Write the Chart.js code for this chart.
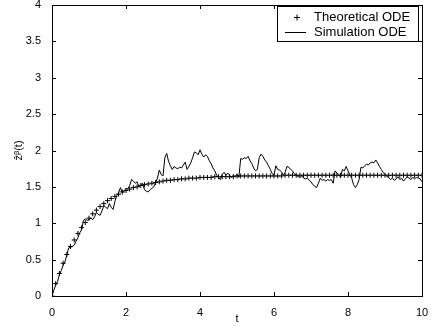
<!DOCTYPE html>
<html>
<head>
<meta charset="utf-8">
<script src="https://cdn.jsdelivr.net/npm/chart.js@4.4.0/dist/chart.umd.min.js"></script>
<style>
  html, body { margin: 0; padding: 0; background: #fff; }
  #wrap { width: 433px; height: 326px; }
</style>
</head>
<body>
<div id="wrap"><canvas id="odeChart" width="433" height="326"></canvas></div>
<script>
// 이론값: t = 0, 0.1, ..., 10
const theoryT = [];
for (let i = 0; i <= 100; i++) theoryT.push(i / 10);
const theoryY = [
    0.00, 0.17, 0.31, 0.45, 0.57, 0.68, 0.77, 0.86, 0.94, 1.01,
    1.07, 1.13, 1.18, 1.23, 1.27, 1.31, 1.34, 1.37, 1.40, 1.43,
    1.45, 1.47, 1.49, 1.50, 1.52, 1.53, 1.54, 1.55, 1.56, 1.57,
    1.58, 1.59, 1.59, 1.60, 1.60, 1.61, 1.61, 1.62, 1.62, 1.62,
    1.63, 1.63, 1.63, 1.63, 1.64, 1.64, 1.64, 1.64, 1.64, 1.64,
    1.65, 1.65, 1.65, 1.65, 1.65, 1.65, 1.65, 1.65, 1.65, 1.65,
    1.65, 1.65, 1.65, 1.66, 1.66, 1.66, 1.66, 1.66, 1.66, 1.66,
    1.66, 1.66, 1.66, 1.66, 1.66, 1.66, 1.66, 1.66, 1.66, 1.66,
    1.66, 1.66, 1.66, 1.66, 1.66, 1.66, 1.66, 1.66, 1.66, 1.66,
    1.66, 1.66, 1.66, 1.66, 1.66, 1.66, 1.66, 1.66, 1.66, 1.66,
    1.66
];

// 시뮬레이션: t = 0, 0.05, ..., 10
const simT = [];
for (let i = 0; i <= 200; i++) simT.push(i / 20);
const simY = [
    0.00, 0.08, 0.15, 0.20, 0.29, 0.35, 0.42, 0.47, 0.56, 0.66,
    0.67, 0.68, 0.70, 0.75, 0.80, 0.87, 0.91, 1.04, 1.06, 1.04,
    1.05, 1.07, 1.05, 1.09, 1.15, 1.12, 1.11, 1.17, 1.24, 1.22,
    1.20, 1.27, 1.22, 1.19, 1.30, 1.38, 1.42, 1.49, 1.42, 1.44,
    1.48, 1.47, 1.52, 1.60, 1.58, 1.55, 1.57, 1.50, 1.53, 1.55,
    1.46, 1.44, 1.43, 1.46, 1.48, 1.50, 1.56, 1.62, 1.73, 1.67,
    1.65, 1.90, 1.96, 1.85, 1.79, 1.74, 1.78, 1.76, 1.75, 1.77,
    1.76, 1.80, 1.84, 1.74, 1.78, 1.83, 1.90, 1.98, 1.97, 1.94,
    2.01, 1.95, 1.91, 1.94, 1.92, 1.86, 1.82, 1.76, 1.72, 1.66,
    1.63, 1.60, 1.67, 1.70, 1.66, 1.69, 1.66, 1.63, 1.66, 1.64,
    1.67, 1.63, 1.89, 1.88, 1.90, 1.89, 1.92, 1.86, 1.82, 1.76,
    1.72, 1.74, 1.90, 1.95, 1.92, 1.87, 1.84, 1.79, 1.74, 1.68,
    1.66, 1.79, 1.74, 1.73, 1.71, 1.66, 1.70, 1.78, 1.77, 1.74,
    1.72, 1.68, 1.66, 1.64, 1.63, 1.65, 1.62, 1.61, 1.62, 1.59,
    1.57, 1.53, 1.51, 1.49, 1.55, 1.62, 1.59, 1.60, 1.58, 1.60,
    1.59, 1.60, 1.55, 1.72, 1.69, 1.67, 1.63, 1.74, 1.72, 1.78,
    1.72, 1.67, 1.62, 1.53, 1.49, 1.53, 1.60, 1.77, 1.76, 1.79,
    1.81, 1.80, 1.83, 1.84, 1.83, 1.87, 1.83, 1.78, 1.74, 1.70,
    1.67, 1.64, 1.63, 1.60, 1.62, 1.59, 1.61, 1.64, 1.60, 1.62,
    1.58, 1.61, 1.64, 1.62, 1.60, 1.63, 1.61, 1.63, 1.62, 1.61,
    1.57
];

const xTicks = [0, 2, 4, 6, 8, 10];
const yTicks = [0, 0.5, 1, 1.5, 2, 2.5, 3, 3.5, 4];
const seriesNames = ['Theoretical ODE', 'Simulation ODE'];

const FONT = '"Liberation Sans", Arial, sans-serif';

// MATLAB 스타일 테두리와 안쪽 눈금
const framePlugin = {
    id: 'frame',
    afterDraw(chart) {
        const { ctx, chartArea: a, scales } = chart;
        const len = 4;
        ctx.save();
        ctx.strokeStyle = '#000';
        ctx.lineWidth = 1;
        ctx.strokeRect(Math.round(a.left) + 0.5, Math.round(a.top) + 0.5,
            Math.round(a.right - a.left), Math.round(a.bottom - a.top));
        ctx.beginPath();
        xTicks.forEach(v => {
            const x = Math.round(scales.x.getPixelForValue(v)) + 0.5;
            ctx.moveTo(x, a.bottom); ctx.lineTo(x, a.bottom - len);
            ctx.moveTo(x, a.top); ctx.lineTo(x, a.top + len);
        });
        yTicks.forEach(v => {
            const y = Math.round(scales.y.getPixelForValue(v)) + 0.5;
            ctx.moveTo(a.left, y); ctx.lineTo(a.left + len, y);
            ctx.moveTo(a.right, y); ctx.lineTo(a.right - len, y);
        });
        ctx.stroke();

        // 범례
        const bx = 277.5, by = 6.5, bw = 141, bh = 35;
        ctx.fillStyle = '#fff';
        ctx.fillRect(bx, by, bw, bh);
        ctx.strokeRect(bx, by, bw, bh);
        ctx.beginPath();
        ctx.moveTo(294, 17.5); ctx.lineTo(300, 17.5);
        ctx.moveTo(297, 14.5); ctx.lineTo(297, 20.5);
        ctx.moveTo(285, 32.5); ctx.lineTo(306, 32.5);
        ctx.stroke();
        ctx.fillStyle = '#000';
        ctx.font = '13px ' + FONT;
        ctx.textBaseline = 'middle';
        ctx.textAlign = 'left';
        ctx.fillText(seriesNames[0], 314, 17);
        ctx.fillText(seriesNames[1], 314, 32);
        ctx.restore();
    }
};

new Chart(document.getElementById('odeChart'), {
    type: 'scatter',
    data: {
        datasets: [
            {
                label: seriesNames[0],
                data: theoryT.map((t, i) => ({ x: t, y: theoryY[i] })),
                showLine: false,
                pointStyle: 'cross',
                pointRadius: 2.5,
                pointBorderWidth: 1,
                borderColor: '#000',
                backgroundColor: '#000'
            },
            {
                label: seriesNames[1],
                data: simT.map((t, i) => ({ x: t, y: simY[i] })),
                showLine: true,
                pointRadius: 0,
                borderWidth: 1,
                borderColor: '#000',
                tension: 0
            }
        ]
    },
    options: {
        responsive: false,
        animation: false,
        events: [],
        layout: { padding: { top: 4, right: 11, left: 0, bottom: 0 } },
        plugins: {
            legend: { display: false },
            tooltip: { enabled: false }
        },
        scales: {
            x: {
                type: 'linear',
                min: 0, max: 10,
                grid: { display: false },
                border: { display: false },
                afterBuildTicks: s => { s.ticks = xTicks.map(v => ({ value: v })); },
                afterFit: s => { s.height = 30; s.paddingLeft = 0; s.paddingRight = 0; },
                ticks: { color: '#000', font: { family: FONT, size: 11 }, padding: 2, maxRotation: 0,
                         callback: v => String(v) },
                title: { display: true, text: 't', color: '#000', font: { family: FONT, size: 11 }, padding: { top: 0, bottom: 0 } }
            },
            y: {
                type: 'linear',
                min: 0, max: 4,
                grid: { display: false },
                border: { display: false },
                afterBuildTicks: s => { s.ticks = yTicks.map(v => ({ value: v })); },
                afterFit: s => { s.width = 52; s.paddingTop = 0; s.paddingBottom = 0; },
                ticks: { color: '#000', font: { family: FONT, size: 11 }, padding: 3,
                         callback: v => String(v) },
                title: { display: true, text: 'ẑᵝ(t)', color: '#000', font: { family: FONT, size: 11 }, padding: { top: 12, bottom: 0 } }
            }
        }
    },
    plugins: [framePlugin]
});
</script>
</body>
</html>
